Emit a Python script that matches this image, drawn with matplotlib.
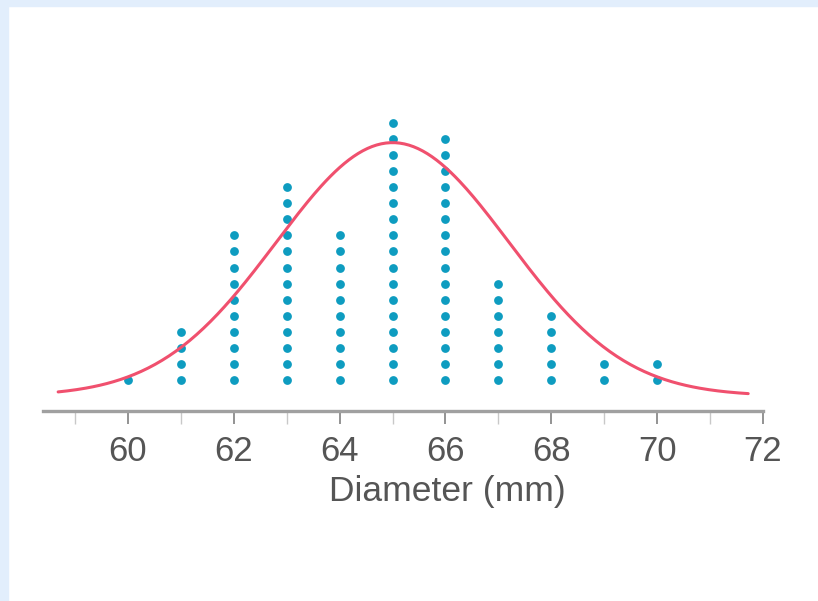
import numpy as np
import matplotlib.pyplot as plt
from matplotlib.patches import Rectangle

# dot plot data: diameter (mm) and number of parts
diameters = [60, 61, 62, 63, 64, 65, 66, 67, 68, 69, 70]
counts = [1, 4, 10, 13, 10, 17, 16, 7, 5, 2, 2]

# fitted normal curve
mu = 65.0
sigma = 2.2
curve_start, curve_end = 58.68, 71.72
n_total = sum(counts)

plt.rcParams['font.family'] = ['Liberation Sans', 'DejaVu Sans']

fig = plt.figure(figsize=(8.18, 6.01), dpi=100)
fig.patch.set_facecolor('white')
# light blue frame strips (left and top)
fig.patches.append(Rectangle((0, 0), 8 / 818, 1, transform=fig.transFigure,
                             color='#e2eefc', zorder=0))
fig.patches.append(Rectangle((0, 1 - 6 / 601), 1, 6 / 601, transform=fig.transFigure,
                             color='#e2eefc', zorder=0))

ax = fig.add_axes([43 / 818, (601 - 411) / 601, 720 / 818, 311 / 601])
ax.set_xlim(60 - 85 / 52.92, 72)
ax.set_ylim(-15 / 16.06, 296 / 16.06)

# stacked dots
xs, ys = [], []
for d, c in zip(diameters, counts):
    for k in range(1, c + 1):
        xs.append(d)
        ys.append(k)
ax.scatter(xs, ys, s=40, color='#0e9cc0', linewidths=0, zorder=2)

# normal curve
xc = np.linspace(curve_start, curve_end, 300)
yc = n_total / (sigma * np.sqrt(2 * np.pi)) * np.exp(-(xc - mu) ** 2 / (2 * sigma ** 2))
ax.plot(xc, yc, color='#f0506e', linewidth=2.2, zorder=3, solid_capstyle='round')

for s in ['left', 'right', 'top']:
    ax.spines[s].set_visible(False)
ax.spines['bottom'].set_color('#a0a0a0')
ax.spines['bottom'].set_linewidth(2.4)
ax.set_yticks([])
ax.set_xticks([60, 62, 64, 66, 68, 70, 72])
ax.set_xticks([59, 61, 63, 65, 67, 69, 71], minor=True)
ax.tick_params(axis='x', which='major', direction='out', length=9.5, width=1.2,
               color='#808080', labelsize=25, labelcolor='#555555', pad=8)
ax.tick_params(axis='x', which='minor', direction='out', length=9.5, width=1.0,
               color='#c8c8c8')
ax.set_facecolor('none')

fig.text(447 / 818, (601 - 491) / 601, 'Diameter (mm)', ha='center', va='center',
         fontsize=25.5, color='#555555')

fig.savefig('out.png', dpi=100, facecolor=fig.get_facecolor())
